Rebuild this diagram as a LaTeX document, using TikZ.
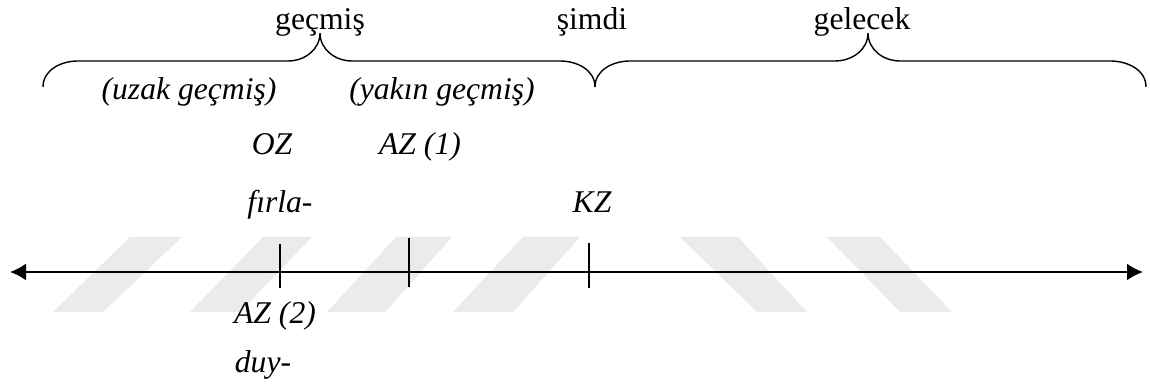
\documentclass[tikz,border=0pt]{standalone}
\usepackage{fontspec}
\setmainfont{Liberation Serif}
\usetikzlibrary{arrows.meta}
\begin{document}
\begin{tikzpicture}[x=0.2mm, y=0.2mm, font=\fontsize{18}{21}\selectfont]
        \tikzset{lbl/.style={anchor=base, inner sep=0pt},
                 ilbl/.style={lbl, font=\fontsize{18}{21}\selectfont\itshape},
                 wm/.style={fill=black!8, draw=none},
                 brace/.style={line width=0.8pt},
                 tickmark/.style={line width=1.2pt},
                 axis/.style={line width=1.1pt, {Latex[length=3.2mm,width=3.4mm]}-{Latex[length=3.2mm,width=3.4mm]}}}
        \useasboundingbox (0,0) rectangle (1150,388);
        \fill[wm] (53,76) -- (103,76) -- (182,151) -- (130,151) -- cycle;
        \fill[wm] (190,76) -- (240,76) -- (312,151) -- (263,151) -- cycle;
        \fill[wm] (327,76) -- (385,76) -- (452,151) -- (396,151) -- cycle;
        \fill[wm] (453,76) -- (513,76) -- (580,151) -- (523,151) -- cycle;
        \fill[wm] (680,151) -- (738,151) -- (807,76) -- (757,76) -- cycle;
        \fill[wm] (827,151) -- (880,151) -- (952,76) -- (900,76) -- cycle;
        \draw[brace] (43,301) to[out=90,in=180] (78,327) -- (288,327) to[out=0,in=-90] (320,355)
                     to[out=-90,in=180] (352,327) -- (560,327) to[out=0,in=90] (595,301);
        \draw[brace] (595,301) to[out=90,in=180] (630,327) -- (835,327) to[out=0,in=-90] (868,355)
                     to[out=-90,in=180] (900,327) -- (1110,327) to[out=0,in=90] (1146,301);
        \node[lbl] (past) at (320,358) {geçmiş};
        \node[lbl] (now) at (592,358) {şimdi};
        \node[lbl] (future) at (862,358) {gelecek};
        \node[ilbl] (farpast) at (189,288) {(uzak geçmiş)};
        \node[ilbl] (nearpast) at (442,288) {(yakın geçmiş)};
        \node[ilbl] (oz) at (272,233) {OZ};
        \node[ilbl] (az1) at (420,233) {AZ (1)};
        \node[ilbl] (firla) at (280,175) {fırla-};
        \node[ilbl] (kz) at (592,175) {KZ};
        \node[ilbl] (az2) at (275,64) {AZ (2)};
        \node[ilbl] (duy) at (263,15) {duy-};
        \coordinate (start) at (10,116);
        \coordinate (end) at (1143,116);
        \draw[axis] (start) -- (end);
        \draw[tickmark] (280,100) -- (280,144);
        \draw[tickmark] (409,101) -- (409,150);
        \draw[tickmark] (589,100) -- (589,145);
    \end{tikzpicture}
\end{document}
